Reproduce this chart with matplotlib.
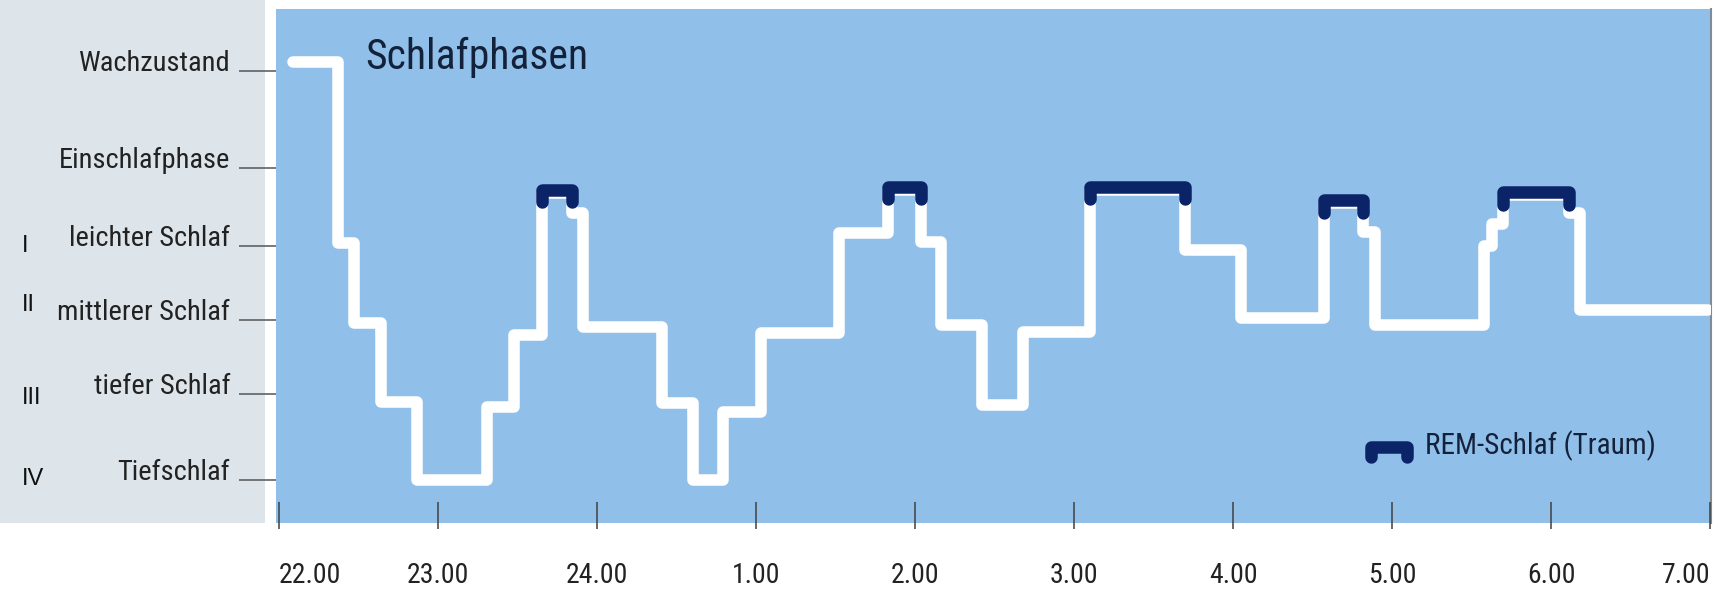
import matplotlib.pyplot as plt
from matplotlib.patches import Rectangle

# Schlafstadien links und ihre Hoehe im Diagramm
stadien = ["Wachzustand", "Einschlafphase", "leichter Schlaf",
           "mittlerer Schlaf", "tiefer Schlaf", "Tiefschlaf"]
stadien_y = [5.25, 4.0, 3.0, 2.05, 1.1, 0.0]
roemisch = ["I", "II", "III", "IV"]
roemisch_y = [3.0, 2.25, 1.05, 0.02]

# Uhrzeit: Stunden nach 22.00
stunden = [0, 1, 2, 3, 4, 5, 6, 7, 8, 9]
stunden_labels = ["22.00", "23.00", "24.00", "1.00", "2.00",
                  "3.00", "4.00", "5.00", "6.00", "7.00"]

# Schlafprofil als Treppe: Beginn jeder Stufe (h nach 22.00) und Tiefe
profil_t = [0.09, 0.37, 0.47, 0.64, 0.87, 1.31, 1.48, 1.65, 1.84, 1.91,
            2.41, 2.60, 2.79, 3.03, 3.52, 3.83, 4.04, 4.16, 4.42, 4.68,
            5.10, 5.70, 6.05, 6.57, 6.82, 6.89, 7.58, 7.63, 7.70, 8.11,
            8.18, 8.99]
profil_v = [5.36, 3.04, 2.01, 1.00, 0.0, 0.94, 1.86, 3.68, 3.42, 1.96,
            0.99, 0.0, 0.87, 1.88, 3.17, 3.72, 3.05, 1.99, 0.96, 1.90,
            3.72, 2.95, 2.08, 3.55, 3.18, 1.99, 3.0, 3.28, 3.65, 3.42,
            2.18, 2.18]
# welche Stufen REM-Schlaf sind
rem_stufe = [7, 15, 20, 23, 28]

blau = "#90c0e9"
grau = "#dde5ea"
navy = "#0b2468"
schmal = ["Roboto Condensed", "Archivo Narrow", "DejaVu Sans"]

fig = plt.figure(figsize=(17.17, 5.93), dpi=100)
fig.patches.append(Rectangle((0, 1 - 523 / 593), 265 / 1717, 523 / 593,
                             transform=fig.transFigure, facecolor=grau,
                             edgecolor="none", zorder=-1))

ax = fig.add_axes([276 / 1717, 1 - 523 / 593, (1711 - 276) / 1717, (523 - 9) / 593])
ax.set_facecolor(blau)
ax.set_xlim(-0.02, 9.006)
ax.set_ylim(-0.55, 6.04)
for s in ["left", "top", "bottom"]:
    ax.spines[s].set_visible(False)
ax.spines["right"].set_color("#7f8c97")
ax.spines["right"].set_linewidth(1.5)

# Kurve
ax.step(profil_t, profil_v, where="post", color="white", lw=8.3,
        solid_joinstyle="round", solid_capstyle="round", zorder=3)

# REM-Abschnitte
for i in rem_stufe:
    t0, t1, v = profil_t[i], profil_t[i + 1], profil_v[i]
    ax.plot([t0, t0, t1, t1], [v - 0.12, v + 0.04, v + 0.04, v - 0.12],
            color=navy, lw=9, solid_joinstyle="round",
            solid_capstyle="round", zorder=4)

# y-Achse
ax.set_yticks(stadien_y)
ax.set_yticklabels(stadien, family=schmal, fontsize=20.5, color="#222222")
ax.tick_params(axis="y", direction="out", length=27, width=1.1,
               color="#555555", pad=6)
for lbl in ax.get_yticklabels():
    lbl.set_va("baseline")
ax.yaxis.get_major_ticks()[0].tick1line.set_color("#c0504d")

for txt, y in zip(roemisch, roemisch_y):
    ax.text(-254 / 1435, y, txt, transform=ax.get_yaxis_transform(),
            fontsize=17, family=["Liberation Sans", "DejaVu Sans"],
            ha="left", va="center", color="#111111")

# x-Achse
ax.set_xticks(stunden)
ax.set_xticklabels(stunden_labels, family=schmal, fontsize=20, color="#222222")
ax.tick_params(axis="x", length=0, pad=28)
xl = ax.get_xticklabels()
xl[0].set_ha("left")
xl[-1].set_ha("right")
ax.vlines(stunden, -0.012, 0.041, transform=ax.get_xaxis_transform(),
          color="#404040", lw=1.1, clip_on=False, zorder=5)

# Titel und Legende
ax.text(0.062, 0.905, "Schlafphasen", transform=ax.transAxes,
        family=schmal, fontsize=30, color="#14213a", va="center")
ax.plot([0.763, 0.763, 0.788, 0.788], [0.128, 0.148, 0.148, 0.128],
        transform=ax.transAxes, color=navy, lw=9,
        solid_joinstyle="round", solid_capstyle="round")
ax.text(0.801, 0.150, "REM-Schlaf (Traum)", transform=ax.transAxes,
        family=schmal, fontsize=21, color="#14213a", va="center")

fig.savefig("out.png", dpi=100)
